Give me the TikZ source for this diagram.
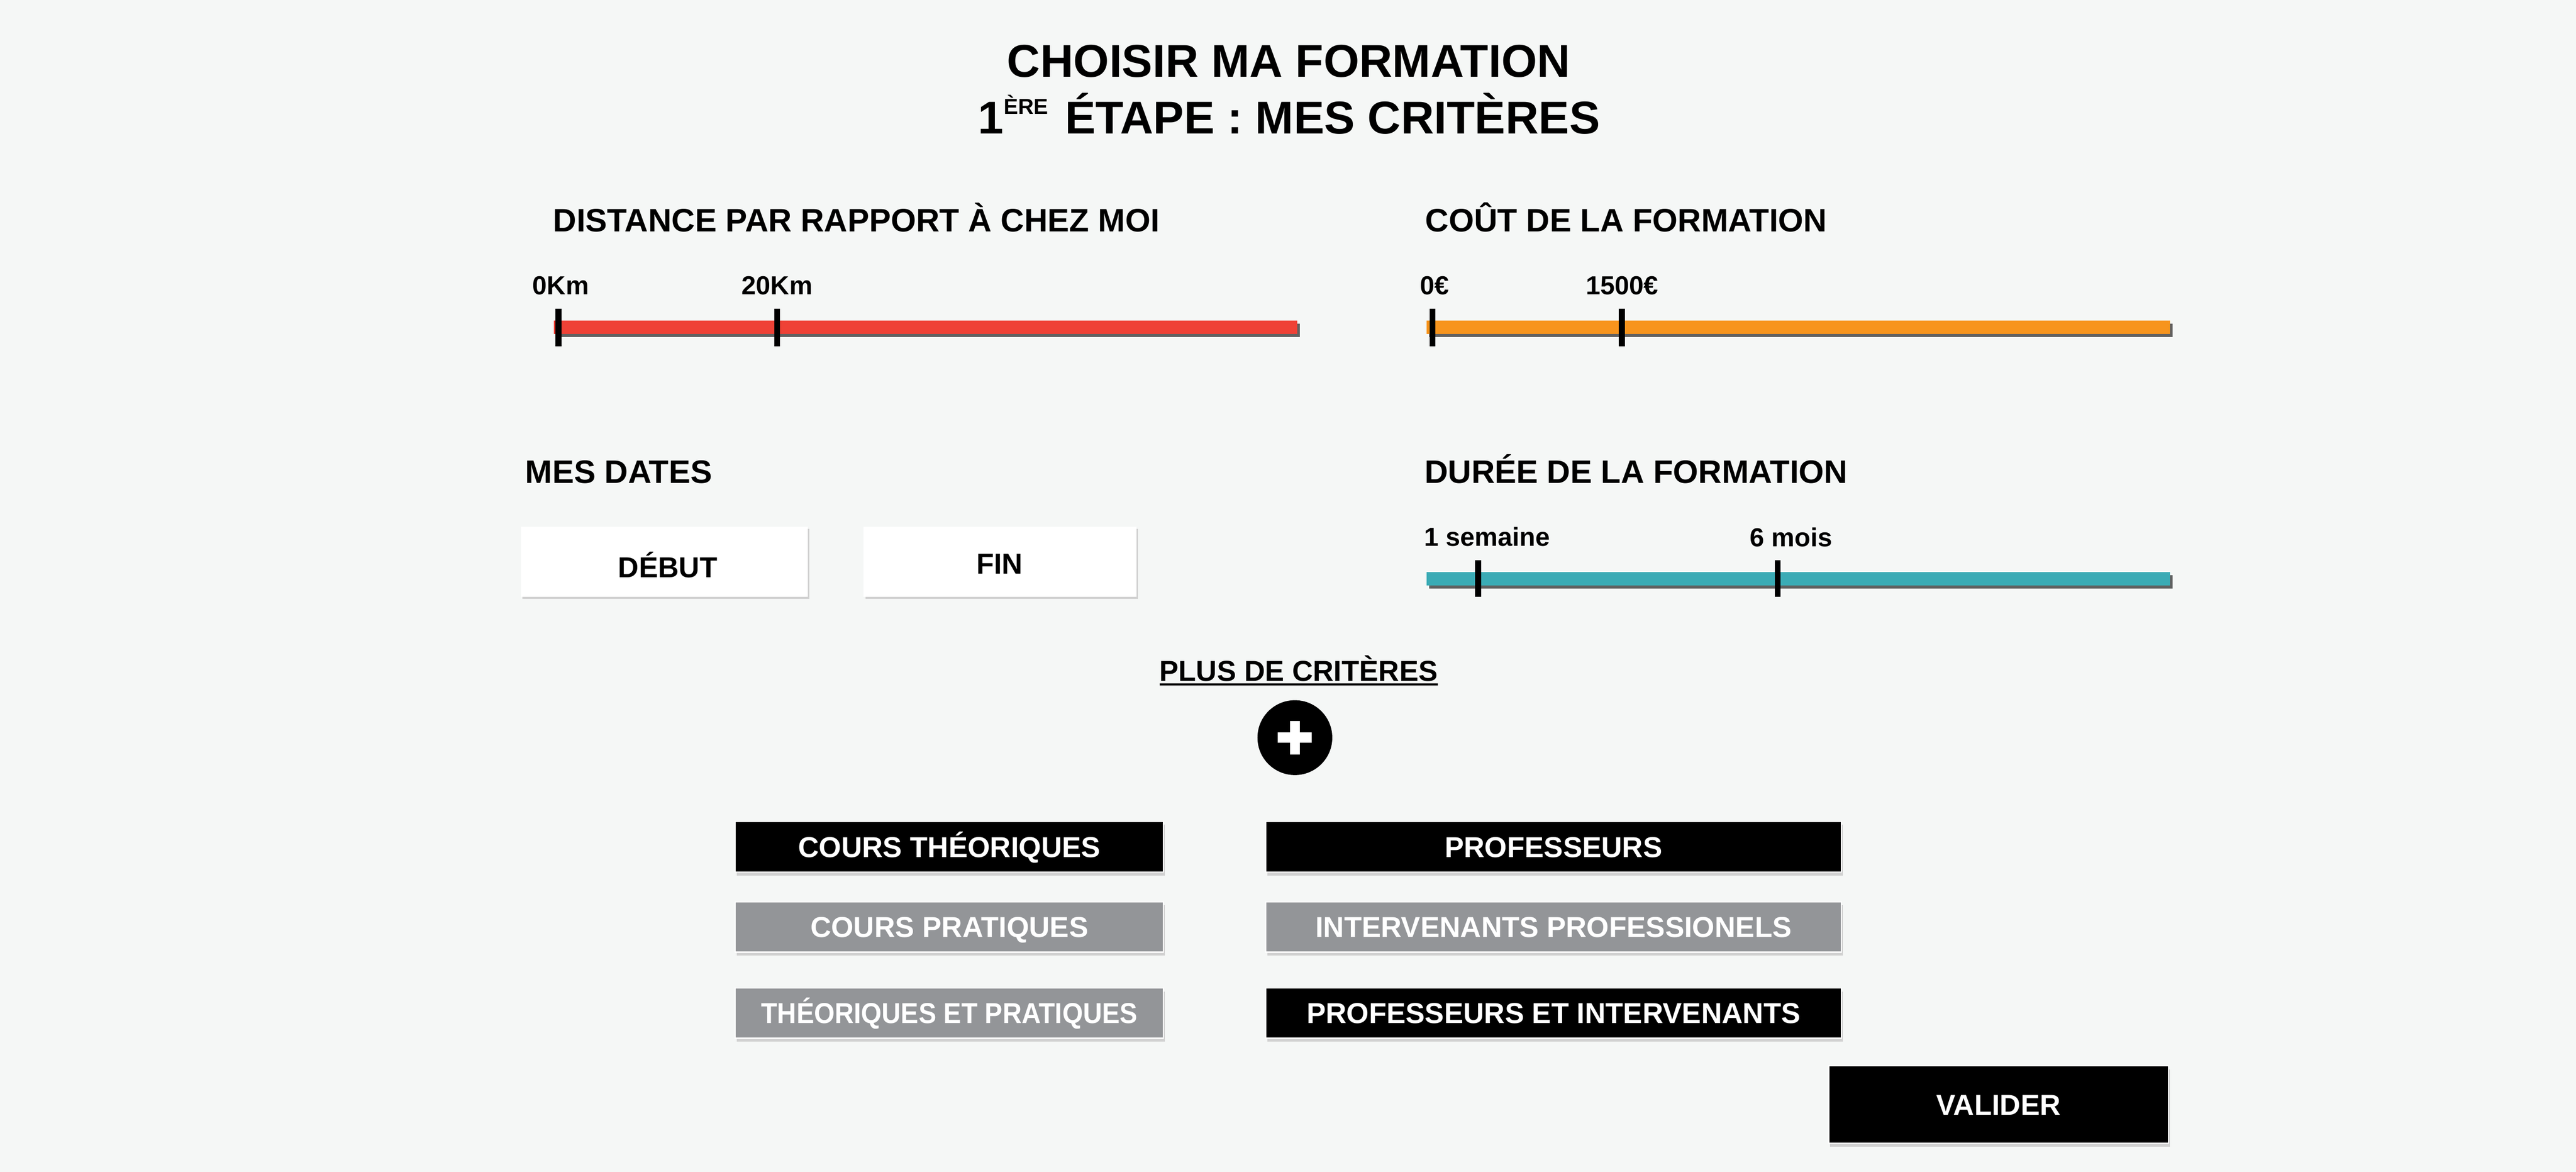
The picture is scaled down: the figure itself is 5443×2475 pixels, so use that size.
\documentclass[tikz,border=0pt]{standalone}
\usepackage{fontspec}
\setmainfont{Liberation Sans}
\usetikzlibrary{shadows}
\definecolor{bg}{RGB}{245,247,246}
\definecolor{cred}{RGB}{239,65,54}
\definecolor{corange}{RGB}{247,148,29}
\definecolor{cteal}{RGB}{58,171,181}
\definecolor{cgrey}{RGB}{147,149,152}
\newcommand\mkfont[1]{\fontsize{#1}{#1}\selectfont\bfseries}
\tikzset{
  txt/.style={inner sep=0pt, outer sep=0pt, text=black},
  titlefont/.style={font=\mkfont{27.6pt}},
  headfont/.style={font=\mkfont{19.5pt}},
  lblfont/.style={font=\mkfont{15.65pt}},
  btnfont/.style={font=\mkfont{17.3pt}},
  barbox/.style={rectangle, inner sep=0pt, outer sep=0pt, minimum width=15.70cm, minimum height=0.285cm,
    general shadow={fill=black!62, shadow xshift=0.055cm, shadow yshift=-0.065cm}},
  tickline/.style={line width=0.125cm, black},
  datebox/.style={rectangle, fill=white, inner sep=0pt, minimum height=1.48cm,
    general shadow={fill=black!18, shadow xshift=0.035cm, shadow yshift=-0.035cm}},
  btn/.style={rectangle, inner sep=0pt, text=white, btnfont, draw=white, line width=0.025cm,
    text height=0.437cm, text depth=0pt,
    general shadow={fill=black!18, shadow xshift=0.03cm, shadow yshift=-0.07cm}},
  btnblack/.style={btn, fill=black},
  btngrey/.style={btn, fill=cgrey},
}
\begin{document}
\begin{tikzpicture}[x=0.01cm, y=-0.01cm]
\fill[bg] (0,0) rectangle (5443,2475);
\useasboundingbox (0,0) rectangle (5443,2475);

% title
\node[txt, titlefont, anchor=base] (title1) at (2723,163) {CHOISIR MA FORMATION};
\node[txt, titlefont, anchor=base] (title2) at (2724,283)
  {1\raisebox{0.42cm}{\mkfont{13pt}ÈRE}\hspace{0.08cm} ÉTAPE : MES CRITÈRES};

% headings
\node[txt, headfont, anchor=base west] (hdist) at (1169,489) {DISTANCE PAR RAPPORT À CHEZ MOI};
\node[txt, headfont, anchor=base west] (hcout) at (3012,489) {COÛT DE LA FORMATION};
\node[txt, headfont, anchor=base west] (hdates) at (1110,1021) {MES DATES};
\node[txt, headfont, anchor=base west] (hduree) at (3010,1021) {DURÉE DE LA FORMATION};

% slider labels
\node[txt, lblfont, anchor=base west] (l0km) at (1125,622) {0Km};
\node[txt, lblfont, anchor=base west] (l20km) at (1567,622) {20Km};
\node[txt, lblfont, anchor=base west] (l0e) at (3001,622) {0€};
\node[txt, lblfont, anchor=base west] (l1500) at (3351,622) {1500€};
\node[txt, lblfont, anchor=base west] (lsem) at (3009,1153) {1 semaine};
\node[txt, lblfont, anchor=base west] (lmois) at (3697,1154) {6 mois};

% bars
\node[barbox, fill=cred] (redbar) at (1956,691) {};
\node[barbox, fill=corange] (orbar) at (3800,691) {};
\node[barbox, fill=cteal] (tealbar) at (3800,1222.5) {};

% ticks
\draw[tickline] (1180,652) -- (1180,731);
\draw[tickline] (1642,652) -- (1642,731);
\draw[tickline] (3027,652) -- (3027,731);
\draw[tickline] (3427,652) -- (3427,731);
\draw[tickline] (3123,1183) -- (3123,1261);
\draw[tickline] (3756,1183) -- (3756,1261);

% date boxes
\node[datebox, minimum width=6.06cm] (debut) at (1404,1187) {};
\node[txt, btnfont, anchor=base] (debuttxt) at (1411,1220) {DÉBUT};
\node[datebox, minimum width=5.76cm] (fin) at (2113,1187) {};
\node[txt, btnfont, anchor=base] (fintxt) at (2112,1212) {FIN};

% plus de criteres
\node[txt, btnfont, anchor=base] (plus) at (2744,1439) {PLUS DE CRITÈRES};
\draw[line width=0.045cm] ([yshift=-0.07cm]plus.base west) -- ([yshift=-0.07cm]plus.base east);
\node[circle, fill=black, minimum size=1.58cm, inner sep=0pt] (addbtn) at (2736,1558) {};
\fill[white] ([xshift=-0.105cm,yshift=0.355cm]addbtn.center) rectangle ([xshift=0.105cm,yshift=-0.355cm]addbtn.center);
\fill[white] ([xshift=-0.36cm,yshift=0.11cm]addbtn.center) rectangle ([xshift=0.36cm,yshift=-0.11cm]addbtn.center);

% option buttons
\node[btnblack, minimum width=9.04cm, minimum height=1.07cm] (ctheo) at (2006,1788.5) {COURS THÉORIQUES};
\node[btngrey, minimum width=9.04cm, minimum height=1.06cm] (cprat) at (2006,1958) {COURS PRATIQUES};
\node[btngrey, minimum width=9.04cm, minimum height=1.06cm] (ctp) at (2006,2140) {\scalebox{0.92}[1]{THÉORIQUES ET PRATIQUES}};
\node[btnblack, minimum width=12.15cm, minimum height=1.07cm] (prof) at (3282.5,1788.5) {PROFESSEURS};
\node[btngrey, minimum width=12.15cm, minimum height=1.06cm] (interv) at (3282.5,1958) {INTERVENANTS PROFESSIONELS};
\node[btnblack, minimum width=12.15cm, minimum height=1.06cm] (profint) at (3282.5,2140) {PROFESSEURS ET INTERVENANTS};

% valider
\node[btnblack, minimum width=7.18cm, minimum height=1.63cm] (valider) at (4223,2333) {VALIDER};
\end{tikzpicture}
\end{document}
